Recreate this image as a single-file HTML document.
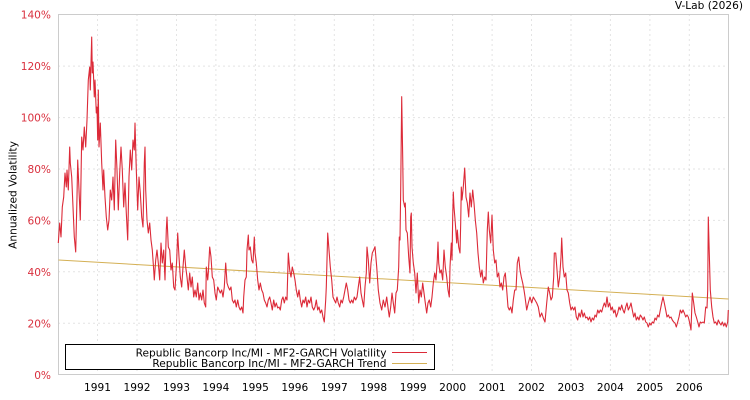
<!DOCTYPE html>
<html>
<head>
<meta charset="utf-8">
<style>
html,body{margin:0;padding:0;background:#fff;}
body{width:750px;height:400px;overflow:hidden;}
svg{display:block;font-family:"DejaVu Sans","Liberation Sans",sans-serif;}
</style>
</head>
<body>
<svg width="750" height="400" viewBox="0 0 750 400" xmlns="http://www.w3.org/2000/svg">
<rect x="0" y="0" width="750" height="400" fill="#fff"/>
<g stroke="#c8c8c8" stroke-width="1" stroke-dasharray="1,4">
<line x1="58.5" x2="728.5" y1="66.1" y2="66.1"/>
<line x1="58.5" x2="728.5" y1="117.6" y2="117.6"/>
<line x1="58.5" x2="728.5" y1="169" y2="169"/>
<line x1="58.5" x2="728.5" y1="220.4" y2="220.4"/>
<line x1="58.5" x2="728.5" y1="271.8" y2="271.8"/>
<line x1="58.5" x2="728.5" y1="323.2" y2="323.2"/>
</g>
<g stroke="#c8c8c8" stroke-width="1" stroke-dasharray="1,4">
<line x1="97.5" x2="97.5" y1="14.5" y2="374.5"/>
<line x1="137" x2="137" y1="14.5" y2="374.5"/>
<line x1="176.5" x2="176.5" y1="14.5" y2="374.5"/>
<line x1="215.9" x2="215.9" y1="14.5" y2="374.5"/>
<line x1="255.4" x2="255.4" y1="14.5" y2="374.5"/>
<line x1="294.8" x2="294.8" y1="14.5" y2="374.5"/>
<line x1="334.3" x2="334.3" y1="14.5" y2="374.5"/>
<line x1="373.7" x2="373.7" y1="14.5" y2="374.5"/>
<line x1="413.2" x2="413.2" y1="14.5" y2="374.5"/>
<line x1="452.6" x2="452.6" y1="14.5" y2="374.5"/>
<line x1="492.1" x2="492.1" y1="14.5" y2="374.5"/>
<line x1="531.5" x2="531.5" y1="14.5" y2="374.5"/>
<line x1="571" x2="571" y1="14.5" y2="374.5"/>
<line x1="610.4" x2="610.4" y1="14.5" y2="374.5"/>
<line x1="649.9" x2="649.9" y1="14.5" y2="374.5"/>
<line x1="689.3" x2="689.3" y1="14.5" y2="374.5"/>
</g>
<rect x="58.5" y="14.5" width="670" height="360" fill="none" stroke="#cccccc" stroke-width="1"/>

<line x1="58.5" y1="260" x2="728.5" y2="299" stroke="#d4b055" stroke-width="1"/>

<polyline fill="none" stroke="#dc2a38" stroke-width="1.1" stroke-linejoin="round" points="
58.3,243 59.7,223 61,237 62.3,207 63.7,197 65,173 66.3,187 67,170 68.3,190 69.7,147 70.3,163 71.7,177 73,207 74.3,237 75.7,252 77,197 77.7,160 79,190 80.3,220 81.7,137 83,150 84.3,127 85.7,147 87,120 88.3,80 89.7,67 90.3,90 91.7,37 92.3,73 93,62 94.3,97 95,80 96.3,113 97,107 97.7,140 98.3,90 99,147 100.3,123 101.7,163 103,190 103.7,170 105,197 106.3,217 107.7,230 109,220 110.3,190 111.7,200 113,177 114.3,210 115.7,140 117,170 118.3,210 119.7,173 121,147 122.3,170 123.7,207 125,183 126.3,213 127.7,240 129,177 130.3,150 131.7,170 133,140 134.3,150 135,123 136.3,170 137.7,210 139,177 140.3,193 141.7,217 143,227 144.3,163 145,147 145.7,190 147,220 148.3,233 149.7,223 151,240 152.3,250 153.7,270 154.3,280 155.7,260 157,250 158.3,263 159.7,280 161,243 162.3,263 163.7,250 165,280 166.3,230 167,217 168.3,247 169.7,250 171,270 172.3,263 173.7,287
175,290 176.7,260 177.7,233 179,257 180.3,277 181.7,287 183,267 184.3,250 185.7,267 187,277 188.3,290 189.7,273 191,287 192.3,277 193.7,297 195,290 196.3,297 197.7,283 199,300 200.3,293 201.7,300 203,290 204.3,303 205.7,307 206.3,267 207.7,280 208.3,273 209.7,247 211,257 212.3,277 213.7,280 215,293 216.3,300 217.7,287 219,290 220.3,293 221.7,290 223,297 224.3,287 225.7,263 227,283 228.3,287 229.7,290 231,287 232.3,300 233.7,303 235,300 236.3,307 237.7,300 239,307 240.3,310 241.7,307 243,313 243.7,297 245,280 246.3,277 247,250 248.3,235 249,250 250.3,247 251.7,260 253,263 254.3,237 255,253 256.3,263 257.7,280 259,290 260.3,283 261.7,290 263,293 264.3,300 265.7,303 267,307 268.3,300 269.7,297 271,303 272.3,310 273.7,300 275,307 276.3,303 277.7,308 279,307 280.3,310 281.7,300 283,297 284.3,303 285.7,297 287,300 288.3,253 289.7,270 291,277 292.3,267 293.7,273 295,280 296.3,290 297.7,297 299,290 300.3,300 301.7,307 303,300 304.3,303 305.7,297 307,307 308.3,300 309.7,303 311,297 312.3,307 313.7,310 315,307 316.3,300 317.7,310 319,307 320.3,313 321.7,310 323,317 324.3,322 325.7,300 326.3,287 327.7,233 329,250 330.3,267 331.7,280 333,297 334.3,300 335.7,303 337,297 338.3,303 339.7,307 341,300 342.3,303 343.7,297 345,290 346.3,283 347.7,290 349,300 350.3,303 351.7,300 353,303 354.3,297 355.7,300 357,297 358.3,287 359.7,277 361,293 362.3,300 363.7,307 365,287 366.3,273 367,247 368.3,260 369.7,283 371,263 372.3,253 373.7,250
375,246.7 376.7,266.7 378.3,290 380,303 381.7,310 383.3,300 385,307 386.7,297 388.3,310 389.3,317 390.7,307 392,293 393.3,303 394.7,313 396,293 397.3,290 398.7,267 399.3,237 400,240 400.7,190 401.7,96.7 402.7,157 403.3,200 404.7,207 405.3,203 406,230 407.3,233 408.7,257 410,273 410.7,217 411.3,213 412,247 413.3,263 414.7,273 416,293 417.3,273 418.7,303 420,290 421.3,297 422.7,283 424,293 425.3,303 426.7,313 428,303 429.3,300 430.7,307 432,297 433.3,283 434.7,273 436,280 437.3,260 438,242 438.7,263 440,273 441.3,270 442.7,280 444,250 445.3,267 446.7,277 448,290 449.3,297 450,267 451.3,243 452,260 452.7,217 453.3,192 454,207 455.3,223 456.7,243 457.3,230 458.7,247 460,253 460.7,223 461.3,187 462,200 463.3,187 464.7,168 466,197 467.3,203 468.7,217 470,193 471.3,207 472.7,190 474,203 475.3,220 476.7,233 478,253 479.3,267 480.7,277 482,270 483.3,283 484.7,277 486,280 487.3,230 488.3,212 489.3,230 490.7,243 492,215 493.3,250 494.7,263 496,260 497.3,277 498.7,273 500,287 501.3,283 502.7,290 504,277 505.3,273 506.7,290 508,307 509.3,310 510.7,307 512,313 513.3,300 514.7,290 516,290 517.3,263 518.7,257 520,270 521.3,277 522.7,283 524,290
525,296.7 526.7,310 528.3,303 530,297 531.7,303 533.3,297 535,300 536.7,303 538.3,307 540,317 541.7,313 543.3,318 545,322 546.7,303 548.3,287 549.7,293 551,300 552.3,297 553.7,277 554.3,253 555.7,253 557,270 558.3,287 559.7,277 561,257 561.7,238 563,267 564.3,277 565.7,273 567,290 568.3,293 569.7,303 571,310 572.3,307 573.7,310 575,307 576.3,317 577.7,320 579,313 580.3,317 581.7,310 583,317 584.3,313 585.7,318 587,317 588.3,320 589.7,317 591,322 592.3,318 593.7,320 595,315 596.3,317 597.7,310 599,313 600.3,310 601.7,312 603,307 604.3,303 605.7,307 607,297 608.3,307 609.7,303 611,310 612.3,307 613.7,313 615,310 616.3,317 617.7,313 619,307 620.3,310 621.7,305 623,310 624.3,313 625.7,307 627,303 628.3,310 629.7,307 631,303 632.3,310 633.7,317 635,313 636.3,320 637.7,317 639,320 640.3,315 641.7,317 643,320 644.3,317 645.7,322 647,323 648.3,327 649.7,323 651,325 652.3,322 653.7,323 655,318 656.3,320 657.7,315 659,317 660.3,310 661.7,303 663,297 664.3,303 665.7,310 667,317 668.3,315 669.7,318 671,317 672.3,320 673.7,322 675,323 676.3,327 677.7,322 679,317 680.3,310 681.7,313 683,310 684.3,313 685.7,317 687,315 688.3,317 689.7,323 691,330 692.3,293 693.7,303 695,313 696.3,317 697.7,322 699,327 700.3,322 701.7,323 703,322 704.3,323 705.7,307 707,308 707.7,290 708.3,217 709,243 710.3,290 711.7,307 713,317 714.3,323 715.7,322 717,325 718.3,320 719.7,323 721,325 722.3,322 723.7,326 725,323 726.3,327 727.7,322 728.3,310"/>

<g fill="#d9303e" font-size="10.6" text-anchor="end">
<text x="51" y="18.5">140%</text>
<text x="51" y="70">120%</text>
<text x="51" y="121.5">100%</text>
<text x="51" y="173">80%</text>
<text x="51" y="224.5">60%</text>
<text x="51" y="276">40%</text>
<text x="51" y="327.5">20%</text>
<text x="51" y="379">0%</text>
</g>
<g fill="#000" font-size="10.6" text-anchor="middle">
<text x="97.5" y="391">1991</text>
<text x="137" y="391">1992</text>
<text x="176.5" y="391">1993</text>
<text x="215.9" y="391">1994</text>
<text x="255.4" y="391">1995</text>
<text x="294.8" y="391">1996</text>
<text x="334.3" y="391">1997</text>
<text x="373.7" y="391">1998</text>
<text x="413.2" y="391">1999</text>
<text x="452.6" y="391">2000</text>
<text x="492.1" y="391">2001</text>
<text x="531.5" y="391">2002</text>
<text x="571" y="391">2003</text>
<text x="610.4" y="391">2004</text>
<text x="649.9" y="391">2005</text>
<text x="689.3" y="391">2006</text>
</g>

<text x="743" y="9" font-size="10.6" text-anchor="end" fill="#000">V-Lab (2026)</text>
<text transform="translate(16.5,195) rotate(-90)" font-size="10.6" text-anchor="middle" fill="#000">Annualized Volatility</text>

<rect x="65.5" y="344.5" width="369" height="25" fill="#fff" stroke="#000" stroke-width="1"/>
<g font-size="10.6" fill="#000" text-anchor="end">
<text x="386.5" y="356.5">Republic Bancorp Inc/MI - MF2-GARCH Volatility</text>
<text x="386.5" y="367.2">Republic Bancorp Inc/MI - MF2-GARCH Trend</text>
</g>
<line x1="392" y1="352.5" x2="427" y2="352.5" stroke="#dc2a38" stroke-width="1"/>
<line x1="392" y1="363.5" x2="427" y2="363.5" stroke="#d4b055" stroke-width="1"/>
</svg>
</body>
</html>
